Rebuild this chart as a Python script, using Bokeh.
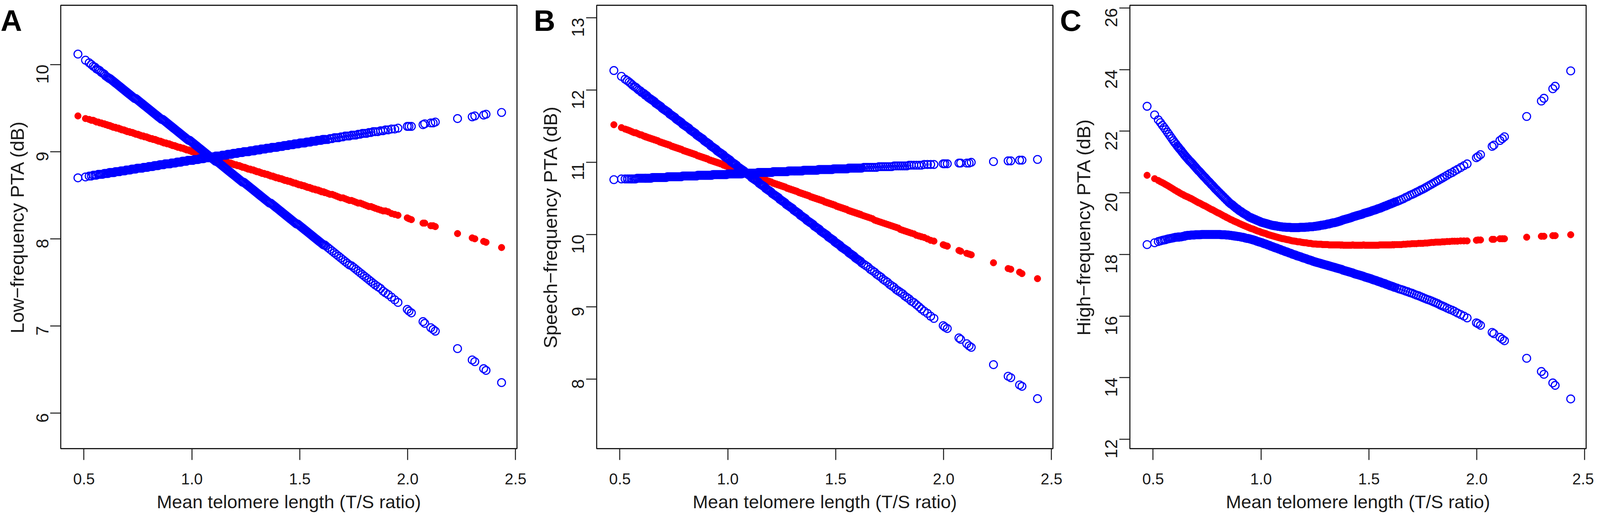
import math
from bokeh.plotting import figure
from bokeh.models import (Range1d, FixedTicker, PrintfTickFormatter, Label, ColumnDataSource, GridBox, Column)
from bokeh.embed import file_html
from bokeh.resources import INLINE

# ---------------- data ----------------
TS_RATIO = [
    0.472, 0.507, 0.524, 0.534, 0.543, 0.551, 0.558, 0.566, 0.573, 0.580, 0.587, 0.594, 0.600, 0.606, 0.612, 0.617,
    0.620, 0.625, 0.630, 0.635, 0.640, 0.645, 0.650, 0.655, 0.660, 0.665,
    0.670, 0.675, 0.680, 0.685, 0.690, 0.695, 0.700, 0.705, 0.710, 0.715,
    0.720, 0.725, 0.730, 0.735, 0.740, 0.745, 0.750, 0.755, 0.760, 0.765,
    0.770, 0.775, 0.780, 0.785, 0.790, 0.795, 0.800, 0.805, 0.810, 0.815,
    0.820, 0.825, 0.830, 0.835, 0.840, 0.845, 0.850, 0.855, 0.860, 0.865,
    0.870, 0.875, 0.880, 0.885, 0.890, 0.895, 0.900, 0.905, 0.910, 0.915,
    0.920, 0.925, 0.930, 0.935, 0.940, 0.945, 0.950, 0.955, 0.960, 0.965,
    0.970, 0.975, 0.980, 0.985, 0.990, 0.995, 1.000, 1.005, 1.010, 1.015,
    1.020, 1.025, 1.030, 1.035, 1.040, 1.045, 1.050, 1.055, 1.060, 1.065,
    1.070, 1.075, 1.080, 1.085, 1.090, 1.095, 1.100, 1.105, 1.110, 1.115,
    1.120, 1.125, 1.130, 1.135, 1.140, 1.145, 1.150, 1.155, 1.160, 1.165,
    1.170, 1.175, 1.180, 1.185, 1.190, 1.195, 1.200, 1.205, 1.210, 1.215,
    1.220, 1.225, 1.230, 1.235, 1.240, 1.245, 1.250, 1.255, 1.260, 1.265,
    1.270, 1.275, 1.280, 1.285, 1.290, 1.295, 1.300, 1.305, 1.310, 1.315,
    1.320, 1.325, 1.330, 1.335, 1.340, 1.345, 1.350, 1.355, 1.360, 1.365,
    1.370, 1.375, 1.380, 1.385, 1.390, 1.395, 1.400, 1.405, 1.410, 1.415,
    1.420, 1.425, 1.430, 1.435, 1.440, 1.445, 1.450, 1.455, 1.460, 1.465,
    1.470, 1.475, 1.480, 1.485, 1.490, 1.495, 1.500, 1.505, 1.510, 1.515,
    1.520, 1.525, 1.530, 1.535, 1.540, 1.545, 1.550, 1.555, 1.560, 1.565,
    1.570, 1.575, 1.580, 1.585, 1.590, 1.595, 1.600, 1.605, 1.610, 1.615,
    1.620,
    1.630, 1.640, 1.650, 1.660, 1.670, 1.680, 1.690, 1.700, 1.710, 1.720, 1.730, 1.740,
    1.750, 1.760, 1.770, 1.780, 1.790, 1.800, 1.810, 1.820, 1.830, 1.840, 1.850,
    1.862, 1.874, 1.886, 1.897, 1.910, 1.925, 1.940, 1.955, 1.998, 2.006, 2.017,
    2.071, 2.079, 2.107, 2.118, 2.128, 2.231, 2.299, 2.311, 2.352, 2.363, 2.435,
]

# Panel A: low-frequency PTA
LOW_FIT = [
    9.41, 9.38, 9.37, 9.36, 9.36, 9.35, 9.34, 9.34, 9.33, 9.33, 9.32, 9.32, 9.31, 9.31, 9.30, 9.30,
    9.30, 9.29, 9.29, 9.28, 9.28, 9.28, 9.27, 9.27, 9.27, 9.26,
    9.26, 9.25, 9.25, 9.25, 9.24, 9.24, 9.23, 9.23, 9.23, 9.22,
    9.22, 9.22, 9.21, 9.21, 9.20, 9.20, 9.20, 9.19, 9.19, 9.18,
    9.18, 9.18, 9.17, 9.17, 9.17, 9.16, 9.16, 9.15, 9.15, 9.15,
    9.14, 9.14, 9.14, 9.13, 9.13, 9.12, 9.12, 9.12, 9.11, 9.11,
    9.10, 9.10, 9.10, 9.09, 9.09, 9.09, 9.08, 9.08, 9.07, 9.07,
    9.07, 9.06, 9.06, 9.05, 9.05, 9.05, 9.04, 9.04, 9.04, 9.03,
    9.03, 9.02, 9.02, 9.02, 9.01, 9.01, 9.00, 9.00, 9.00, 8.99,
    8.99, 8.99, 8.98, 8.98, 8.97, 8.97, 8.97, 8.96, 8.96, 8.95,
    8.95, 8.95, 8.94, 8.94, 8.94, 8.93, 8.93, 8.92, 8.92, 8.92,
    8.91, 8.91, 8.90, 8.90, 8.90, 8.89, 8.89, 8.89, 8.88, 8.88,
    8.87, 8.87, 8.87, 8.86, 8.86, 8.85, 8.85, 8.85, 8.84, 8.84,
    8.84, 8.83, 8.83, 8.82, 8.82, 8.82, 8.81, 8.81, 8.80, 8.80,
    8.80, 8.79, 8.79, 8.79, 8.78, 8.78, 8.77, 8.77, 8.77, 8.76,
    8.76, 8.75, 8.75, 8.75, 8.74, 8.74, 8.74, 8.73, 8.73, 8.72,
    8.72, 8.72, 8.71, 8.71, 8.70, 8.70, 8.70, 8.69, 8.69, 8.69,
    8.68, 8.68, 8.67, 8.67, 8.67, 8.66, 8.66, 8.66, 8.65, 8.65,
    8.64, 8.64, 8.64, 8.63, 8.63, 8.62, 8.62, 8.62, 8.61, 8.61,
    8.61, 8.60, 8.60, 8.59, 8.59, 8.59, 8.58, 8.58, 8.57, 8.57,
    8.57, 8.56, 8.56, 8.56, 8.55, 8.55, 8.54, 8.54, 8.54, 8.53,
    8.53,
    8.52, 8.51, 8.51, 8.50, 8.49, 8.48, 8.47, 8.47, 8.46, 8.45, 8.44, 8.44,
    8.43, 8.42, 8.41, 8.41, 8.40, 8.39, 8.38, 8.37, 8.37, 8.36, 8.35,
    8.34, 8.33, 8.32, 8.32, 8.31, 8.29, 8.28, 8.27, 8.24, 8.23, 8.22,
    8.18, 8.18, 8.15, 8.15, 8.14, 8.06, 8.01, 8.00, 7.97, 7.96, 7.90,
]
LOW_CI_1 = [
    10.12, 10.05, 10.02, 10.00, 9.98, 9.97, 9.95, 9.94, 9.93, 9.91, 9.90, 9.89, 9.87, 9.86, 9.85, 9.84,
    9.84, 9.83, 9.82, 9.81, 9.80, 9.79, 9.78, 9.77, 9.76, 9.75,
    9.74, 9.73, 9.72, 9.71, 9.70, 9.69, 9.68, 9.67, 9.66, 9.65,
    9.64, 9.63, 9.62, 9.61, 9.61, 9.60, 9.59, 9.58, 9.57, 9.56,
    9.55, 9.54, 9.53, 9.52, 9.51, 9.50, 9.49, 9.48, 9.47, 9.46,
    9.45, 9.44, 9.43, 9.42, 9.41, 9.40, 9.39, 9.38, 9.37, 9.37,
    9.36, 9.35, 9.34, 9.33, 9.32, 9.31, 9.30, 9.29, 9.28, 9.27,
    9.26, 9.25, 9.24, 9.23, 9.22, 9.21, 9.20, 9.19, 9.18, 9.17,
    9.16, 9.15, 9.14, 9.13, 9.13, 9.12, 9.11, 9.10, 9.09, 9.08,
    9.07, 9.06, 9.05, 9.04, 9.03, 9.02, 9.01, 9.00, 8.99, 8.98,
    8.97, 8.96, 8.95, 8.94, 8.93, 8.92, 8.91, 8.90, 8.89, 8.89,
    8.88, 8.87, 8.86, 8.85, 8.84, 8.83, 8.82, 8.81, 8.80, 8.79,
    8.78, 8.77, 8.76, 8.75, 8.74, 8.73, 8.72, 8.71, 8.70, 8.69,
    8.68, 8.67, 8.66, 8.65, 8.65, 8.64, 8.63, 8.62, 8.61, 8.60,
    8.59, 8.58, 8.57, 8.56, 8.55, 8.54, 8.53, 8.52, 8.51, 8.50,
    8.49, 8.48, 8.47, 8.46, 8.45, 8.44, 8.43, 8.42, 8.41, 8.41,
    8.40, 8.39, 8.38, 8.37, 8.36, 8.35, 8.34, 8.33, 8.32, 8.31,
    8.30, 8.29, 8.28, 8.27, 8.26, 8.25, 8.24, 8.23, 8.22, 8.21,
    8.20, 8.19, 8.18, 8.17, 8.17, 8.16, 8.15, 8.14, 8.13, 8.12,
    8.11, 8.10, 8.09, 8.08, 8.07, 8.06, 8.05, 8.04, 8.03, 8.02,
    8.01, 8.00, 7.99, 7.98, 7.97, 7.96, 7.95, 7.94, 7.93, 7.93,
    7.92,
    7.90, 7.88, 7.86, 7.84, 7.82, 7.80, 7.78, 7.76, 7.74, 7.72, 7.70, 7.69,
    7.67, 7.65, 7.63, 7.61, 7.59, 7.57, 7.55, 7.53, 7.51, 7.49, 7.47,
    7.45, 7.43, 7.40, 7.38, 7.36, 7.33, 7.30, 7.27, 7.19, 7.17, 7.15,
    7.05, 7.03, 6.98, 6.96, 6.94, 6.74, 6.61, 6.59, 6.51, 6.49, 6.35,
]
LOW_CI_2 = [
    8.70, 8.71, 8.72, 8.72, 8.73, 8.73, 8.73, 8.74, 8.74, 8.74, 8.74, 8.75, 8.75, 8.75, 8.75, 8.76,
    8.76, 8.76, 8.76, 8.76, 8.76, 8.77, 8.77, 8.77, 8.77, 8.77,
    8.78, 8.78, 8.78, 8.78, 8.78, 8.79, 8.79, 8.79, 8.79, 8.79,
    8.80, 8.80, 8.80, 8.80, 8.80, 8.81, 8.81, 8.81, 8.81, 8.81,
    8.81, 8.82, 8.82, 8.82, 8.82, 8.82, 8.83, 8.83, 8.83, 8.83,
    8.83, 8.84, 8.84, 8.84, 8.84, 8.84, 8.85, 8.85, 8.85, 8.85,
    8.85, 8.86, 8.86, 8.86, 8.86, 8.86, 8.86, 8.87, 8.87, 8.87,
    8.87, 8.87, 8.88, 8.88, 8.88, 8.88, 8.88, 8.89, 8.89, 8.89,
    8.89, 8.89, 8.90, 8.90, 8.90, 8.90, 8.90, 8.90, 8.91, 8.91,
    8.91, 8.91, 8.91, 8.92, 8.92, 8.92, 8.92, 8.92, 8.93, 8.93,
    8.93, 8.93, 8.93, 8.94, 8.94, 8.94, 8.94, 8.94, 8.95, 8.95,
    8.95, 8.95, 8.95, 8.95, 8.96, 8.96, 8.96, 8.96, 8.96, 8.97,
    8.97, 8.97, 8.97, 8.97, 8.98, 8.98, 8.98, 8.98, 8.98, 8.99,
    8.99, 8.99, 8.99, 8.99, 9.00, 9.00, 9.00, 9.00, 9.00, 9.00,
    9.01, 9.01, 9.01, 9.01, 9.01, 9.02, 9.02, 9.02, 9.02, 9.02,
    9.03, 9.03, 9.03, 9.03, 9.03, 9.04, 9.04, 9.04, 9.04, 9.04,
    9.05, 9.05, 9.05, 9.05, 9.05, 9.05, 9.06, 9.06, 9.06, 9.06,
    9.06, 9.07, 9.07, 9.07, 9.07, 9.07, 9.08, 9.08, 9.08, 9.08,
    9.08, 9.09, 9.09, 9.09, 9.09, 9.09, 9.10, 9.10, 9.10, 9.10,
    9.10, 9.10, 9.11, 9.11, 9.11, 9.11, 9.11, 9.12, 9.12, 9.12,
    9.12, 9.12, 9.13, 9.13, 9.13, 9.13, 9.13, 9.14, 9.14, 9.14,
    9.14,
    9.14, 9.15, 9.15, 9.16, 9.16, 9.16, 9.17, 9.17, 9.18, 9.18, 9.18, 9.19,
    9.19, 9.19, 9.20, 9.20, 9.21, 9.21, 9.21, 9.22, 9.22, 9.23, 9.23,
    9.23, 9.24, 9.24, 9.25, 9.25, 9.26, 9.26, 9.27, 9.29, 9.29, 9.29,
    9.31, 9.32, 9.33, 9.33, 9.34, 9.38, 9.40, 9.41, 9.42, 9.43, 9.45,
]

# Panel B: speech-frequency PTA
SPEECH_FIT = [
    11.52, 11.48, 11.46, 11.45, 11.44, 11.43, 11.42, 11.41, 11.41, 11.40, 11.39, 11.38, 11.38, 11.37, 11.36, 11.36,
    11.35, 11.35, 11.34, 11.34, 11.33, 11.33, 11.32, 11.32, 11.31, 11.31,
    11.30, 11.30, 11.29, 11.28, 11.28, 11.27, 11.27, 11.26, 11.26, 11.25,
    11.25, 11.24, 11.24, 11.23, 11.22, 11.22, 11.21, 11.21, 11.20, 11.20,
    11.19, 11.19, 11.18, 11.18, 11.17, 11.16, 11.16, 11.15, 11.15, 11.14,
    11.14, 11.13, 11.13, 11.12, 11.12, 11.11, 11.11, 11.10, 11.09, 11.09,
    11.08, 11.08, 11.07, 11.07, 11.06, 11.06, 11.05, 11.05, 11.04, 11.03,
    11.03, 11.02, 11.02, 11.01, 11.01, 11.00, 11.00, 10.99, 10.99, 10.98,
    10.98, 10.97, 10.96, 10.96, 10.95, 10.95, 10.94, 10.94, 10.93, 10.93,
    10.92, 10.92, 10.91, 10.90, 10.90, 10.89, 10.89, 10.88, 10.88, 10.87,
    10.87, 10.86, 10.86, 10.85, 10.84, 10.84, 10.83, 10.83, 10.82, 10.82,
    10.81, 10.81, 10.80, 10.80, 10.79, 10.79, 10.78, 10.77, 10.77, 10.76,
    10.76, 10.75, 10.75, 10.74, 10.74, 10.73, 10.73, 10.72, 10.71, 10.71,
    10.70, 10.70, 10.69, 10.69, 10.68, 10.68, 10.67, 10.67, 10.66, 10.66,
    10.65, 10.64, 10.64, 10.63, 10.63, 10.62, 10.62, 10.61, 10.61, 10.60,
    10.60, 10.59, 10.58, 10.58, 10.57, 10.57, 10.56, 10.56, 10.55, 10.55,
    10.54, 10.54, 10.53, 10.52, 10.52, 10.51, 10.51, 10.50, 10.50, 10.49,
    10.49, 10.48, 10.48, 10.47, 10.47, 10.46, 10.45, 10.45, 10.44, 10.44,
    10.43, 10.43, 10.42, 10.42, 10.41, 10.41, 10.40, 10.39, 10.39, 10.38,
    10.38, 10.37, 10.37, 10.36, 10.36, 10.35, 10.35, 10.34, 10.33, 10.33,
    10.32, 10.32, 10.31, 10.31, 10.30, 10.30, 10.29, 10.29, 10.28, 10.28,
    10.27,
    10.26, 10.25, 10.24, 10.23, 10.22, 10.20, 10.19, 10.18, 10.17, 10.16, 10.15, 10.14,
    10.13, 10.12, 10.11, 10.10, 10.09, 10.07, 10.06, 10.05, 10.04, 10.03, 10.02,
    10.01, 9.99, 9.98, 9.97, 9.96, 9.94, 9.92, 9.91, 9.86, 9.85, 9.84,
    9.78, 9.77, 9.74, 9.73, 9.72, 9.61, 9.53, 9.52, 9.48, 9.46, 9.39,
]
SPEECH_CI_1 = [
    12.27, 12.19, 12.15, 12.13, 12.11, 12.09, 12.07, 12.05, 12.04, 12.02, 12.00, 11.99, 11.97, 11.96, 11.95, 11.93,
    11.93, 11.92, 11.90, 11.89, 11.88, 11.87, 11.86, 11.85, 11.84, 11.82,
    11.81, 11.80, 11.79, 11.78, 11.77, 11.75, 11.74, 11.73, 11.72, 11.71,
    11.70, 11.69, 11.67, 11.66, 11.65, 11.64, 11.63, 11.62, 11.60, 11.59,
    11.58, 11.57, 11.56, 11.55, 11.53, 11.52, 11.51, 11.50, 11.49, 11.48,
    11.47, 11.45, 11.44, 11.43, 11.42, 11.41, 11.40, 11.38, 11.37, 11.36,
    11.35, 11.34, 11.33, 11.32, 11.30, 11.29, 11.28, 11.27, 11.26, 11.25,
    11.23, 11.22, 11.21, 11.20, 11.19, 11.18, 11.16, 11.15, 11.14, 11.13,
    11.12, 11.11, 11.10, 11.08, 11.07, 11.06, 11.05, 11.04, 11.03, 11.01,
    11.00, 10.99, 10.98, 10.97, 10.96, 10.94, 10.93, 10.92, 10.91, 10.90,
    10.89, 10.88, 10.86, 10.85, 10.84, 10.83, 10.82, 10.81, 10.79, 10.78,
    10.77, 10.76, 10.75, 10.74, 10.73, 10.71, 10.70, 10.69, 10.68, 10.67,
    10.66, 10.64, 10.63, 10.62, 10.61, 10.60, 10.59, 10.57, 10.56, 10.55,
    10.54, 10.53, 10.52, 10.51, 10.49, 10.48, 10.47, 10.46, 10.45, 10.44,
    10.42, 10.41, 10.40, 10.39, 10.38, 10.37, 10.36, 10.34, 10.33, 10.32,
    10.31, 10.30, 10.29, 10.27, 10.26, 10.25, 10.24, 10.23, 10.22, 10.20,
    10.19, 10.18, 10.17, 10.16, 10.15, 10.14, 10.12, 10.11, 10.10, 10.09,
    10.08, 10.07, 10.05, 10.04, 10.03, 10.02, 10.01, 10.00, 9.99, 9.97,
    9.96, 9.95, 9.94, 9.93, 9.92, 9.90, 9.89, 9.88, 9.87, 9.86,
    9.85, 9.83, 9.82, 9.81, 9.80, 9.79, 9.78, 9.77, 9.75, 9.74,
    9.73, 9.72, 9.71, 9.70, 9.68, 9.67, 9.66, 9.65, 9.64, 9.63,
    9.61,
    9.59, 9.57, 9.55, 9.52, 9.50, 9.48, 9.45, 9.43, 9.41, 9.38, 9.36, 9.34,
    9.31, 9.29, 9.27, 9.24, 9.22, 9.20, 9.18, 9.15, 9.13, 9.11, 9.08,
    9.06, 9.03, 9.00, 8.97, 8.94, 8.91, 8.87, 8.84, 8.74, 8.72, 8.70,
    8.57, 8.55, 8.49, 8.46, 8.44, 8.20, 8.04, 8.02, 7.92, 7.90, 7.73,
]
SPEECH_CI_2 = [
    10.76, 10.77, 10.77, 10.77, 10.77, 10.77, 10.77, 10.77, 10.77, 10.78, 10.78, 10.78, 10.78, 10.78, 10.78, 10.78,
    10.78, 10.78, 10.78, 10.78, 10.78, 10.78, 10.79, 10.79, 10.79, 10.79,
    10.79, 10.79, 10.79, 10.79, 10.79, 10.79, 10.79, 10.79, 10.79, 10.79,
    10.80, 10.80, 10.80, 10.80, 10.80, 10.80, 10.80, 10.80, 10.80, 10.80,
    10.80, 10.80, 10.80, 10.80, 10.81, 10.81, 10.81, 10.81, 10.81, 10.81,
    10.81, 10.81, 10.81, 10.81, 10.81, 10.81, 10.81, 10.81, 10.82, 10.82,
    10.82, 10.82, 10.82, 10.82, 10.82, 10.82, 10.82, 10.82, 10.82, 10.82,
    10.82, 10.82, 10.83, 10.83, 10.83, 10.83, 10.83, 10.83, 10.83, 10.83,
    10.83, 10.83, 10.83, 10.83, 10.83, 10.83, 10.84, 10.84, 10.84, 10.84,
    10.84, 10.84, 10.84, 10.84, 10.84, 10.84, 10.84, 10.84, 10.84, 10.84,
    10.85, 10.85, 10.85, 10.85, 10.85, 10.85, 10.85, 10.85, 10.85, 10.85,
    10.85, 10.85, 10.85, 10.85, 10.86, 10.86, 10.86, 10.86, 10.86, 10.86,
    10.86, 10.86, 10.86, 10.86, 10.86, 10.86, 10.86, 10.86, 10.87, 10.87,
    10.87, 10.87, 10.87, 10.87, 10.87, 10.87, 10.87, 10.87, 10.87, 10.87,
    10.87, 10.87, 10.88, 10.88, 10.88, 10.88, 10.88, 10.88, 10.88, 10.88,
    10.88, 10.88, 10.88, 10.88, 10.88, 10.88, 10.89, 10.89, 10.89, 10.89,
    10.89, 10.89, 10.89, 10.89, 10.89, 10.89, 10.89, 10.89, 10.89, 10.89,
    10.90, 10.90, 10.90, 10.90, 10.90, 10.90, 10.90, 10.90, 10.90, 10.90,
    10.90, 10.90, 10.90, 10.90, 10.91, 10.91, 10.91, 10.91, 10.91, 10.91,
    10.91, 10.91, 10.91, 10.91, 10.91, 10.91, 10.91, 10.91, 10.92, 10.92,
    10.92, 10.92, 10.92, 10.92, 10.92, 10.92, 10.92, 10.92, 10.92, 10.92,
    10.92,
    10.93, 10.93, 10.93, 10.93, 10.93, 10.93, 10.93, 10.94, 10.94, 10.94, 10.94, 10.94,
    10.94, 10.94, 10.95, 10.95, 10.95, 10.95, 10.95, 10.95, 10.95, 10.96, 10.96,
    10.96, 10.96, 10.96, 10.96, 10.97, 10.97, 10.97, 10.97, 10.98, 10.98, 10.98,
    10.99, 10.99, 10.99, 10.99, 11.00, 11.01, 11.02, 11.02, 11.03, 11.03, 11.04,
]

# Panel C: high-frequency PTA
HIGH_FIT = [
    20.57, 20.46, 20.40, 20.36, 20.33, 20.30, 20.27, 20.24, 20.21, 20.18, 20.15, 20.12, 20.09, 20.07, 20.04, 20.03,
    20.01, 19.99, 19.97, 19.95, 19.94, 19.91,
    19.90, 19.88, 19.87, 19.85, 19.83, 19.82, 19.80, 19.78, 19.76, 19.74,
    19.72, 19.70, 19.68, 19.67, 19.65, 19.63, 19.61, 19.59, 19.58, 19.56,
    19.54, 19.52, 19.50, 19.48, 19.46, 19.45, 19.43, 19.41, 19.39, 19.37,
    19.35, 19.34, 19.32, 19.30, 19.28, 19.26, 19.24, 19.23, 19.20, 19.19,
    19.17, 19.15, 19.13, 19.12, 19.10, 19.08, 19.07, 19.05, 19.04, 19.02,
    19.00, 18.99, 18.97, 18.96, 18.94, 18.93, 18.91, 18.90, 18.88, 18.87,
    18.85, 18.84, 18.83, 18.82, 18.80, 18.79, 18.77, 18.76, 18.75, 18.74,
    18.72, 18.71, 18.70, 18.69, 18.68, 18.67, 18.65, 18.64, 18.63, 18.62,
    18.61, 18.60, 18.59, 18.58, 18.57, 18.56, 18.55, 18.54, 18.53, 18.52,
    18.51, 18.51, 18.50, 18.49, 18.48, 18.48, 18.47, 18.46, 18.45, 18.44,
    18.44, 18.43, 18.43, 18.42, 18.41, 18.41, 18.41, 18.40, 18.39, 18.39,
    18.38, 18.38, 18.38, 18.37, 18.36, 18.36, 18.36, 18.35, 18.34, 18.34,
    18.34, 18.34, 18.33, 18.33, 18.33, 18.33, 18.33, 18.32, 18.32, 18.32,
    18.32, 18.32, 18.32, 18.31, 18.31, 18.31, 18.31, 18.31, 18.31, 18.31,
    18.31, 18.31, 18.31, 18.31, 18.30, 18.31, 18.30, 18.30, 18.30, 18.30,
    18.30, 18.30, 18.30, 18.30, 18.30, 18.31, 18.30, 18.30, 18.30, 18.30,
    18.30, 18.30, 18.30, 18.30, 18.30, 18.31, 18.30, 18.30, 18.30, 18.30,
    18.30, 18.30, 18.30, 18.30, 18.30, 18.30, 18.30, 18.30, 18.30, 18.30,
    18.31, 18.31, 18.31, 18.31, 18.31, 18.31, 18.31, 18.31, 18.31, 18.31,
    18.31, 18.31, 18.32, 18.31, 18.32,
    18.32, 18.32, 18.32, 18.33, 18.33, 18.34, 18.34, 18.35, 18.35, 18.35, 18.36, 18.36,
    18.36, 18.37, 18.37, 18.38, 18.39, 18.39, 18.40, 18.40, 18.40, 18.41, 18.41,
    18.42, 18.42, 18.43, 18.43, 18.43, 18.44, 18.44, 18.44, 18.46, 18.47, 18.47,
    18.49, 18.49, 18.51, 18.51, 18.51, 18.56, 18.59, 18.59, 18.61, 18.61, 18.64,
]
HIGH_CI_1 = [
    22.81, 22.53, 22.37, 22.28, 22.19, 22.12, 22.05, 21.97, 21.90, 21.83, 21.76, 21.69, 21.63, 21.58, 21.52, 21.48,
    21.45, 21.41, 21.37, 21.32, 21.28, 21.23,
    21.19, 21.15, 21.11, 21.07, 21.03, 21.00, 20.96, 20.92, 20.88, 20.84,
    20.80, 20.76, 20.72, 20.69, 20.65, 20.61, 20.57, 20.53, 20.50, 20.46,
    20.42, 20.38, 20.35, 20.31, 20.27, 20.24, 20.20, 20.16, 20.12, 20.09,
    20.05, 20.02, 19.98, 19.95, 19.91, 19.88, 19.84, 19.81, 19.77, 19.74,
    19.70, 19.67, 19.64, 19.62, 19.59, 19.56, 19.53, 19.50, 19.48, 19.45,
    19.42, 19.40, 19.38, 19.35, 19.33, 19.31, 19.29, 19.27, 19.24, 19.22,
    19.20, 19.19, 19.17, 19.16, 19.14, 19.13, 19.11, 19.10, 19.08, 19.07,
    19.05, 19.04, 19.03, 19.02, 19.01, 19.00, 18.99, 18.98, 18.97, 18.96,
    18.95, 18.94, 18.94, 18.93, 18.93, 18.92, 18.91, 18.91, 18.90, 18.90,
    18.89, 18.89, 18.89, 18.88, 18.88, 18.88, 18.88, 18.88, 18.87, 18.87,
    18.87, 18.87, 18.87, 18.87, 18.87, 18.87, 18.88, 18.88, 18.88, 18.88,
    18.88, 18.88, 18.89, 18.89, 18.89, 18.90, 18.90, 18.90, 18.90, 18.91,
    18.91, 18.92, 18.92, 18.93, 18.93, 18.94, 18.95, 18.95, 18.96, 18.96,
    18.97, 18.98, 18.99, 18.99, 19.00, 19.01, 19.02, 19.03, 19.03, 19.04,
    19.05, 19.06, 19.07, 19.08, 19.09, 19.11, 19.12, 19.13, 19.14, 19.15,
    19.16, 19.17, 19.18, 19.19, 19.20, 19.22, 19.23, 19.24, 19.25, 19.26,
    19.27, 19.28, 19.29, 19.30, 19.31, 19.33, 19.34, 19.35, 19.36, 19.37,
    19.38, 19.39, 19.40, 19.42, 19.43, 19.44, 19.45, 19.46, 19.48, 19.49,
    19.50, 19.51, 19.53, 19.54, 19.56, 19.57, 19.58, 19.60, 19.61, 19.63,
    19.64, 19.65, 19.67, 19.68, 19.70,
    19.72, 19.75, 19.78, 19.81, 19.85, 19.88, 19.92, 19.95, 19.98, 20.02, 20.05, 20.09,
    20.12, 20.16, 20.20, 20.24, 20.28, 20.32, 20.36, 20.40, 20.44, 20.48, 20.52,
    20.57, 20.62, 20.66, 20.71, 20.76, 20.82, 20.88, 20.94, 21.14, 21.18, 21.24,
    21.51, 21.55, 21.70, 21.76, 21.82, 22.48, 22.98, 23.07, 23.38, 23.46, 23.96,
]
HIGH_CI_2 = [
    18.32, 18.38, 18.42, 18.44, 18.46, 18.47, 18.48, 18.50, 18.51, 18.52, 18.53, 18.54, 18.55, 18.56, 18.56, 18.57,
    18.56, 18.57, 18.57, 18.58, 18.59, 18.59,
    18.61, 18.61, 18.62, 18.62, 18.62, 18.63, 18.63, 18.63, 18.63, 18.64,
    18.64, 18.64, 18.64, 18.64, 18.64, 18.65, 18.65, 18.65, 18.65, 18.65,
    18.65, 18.65, 18.65, 18.65, 18.65, 18.65, 18.65, 18.65, 18.65, 18.65,
    18.65, 18.65, 18.65, 18.64, 18.64, 18.64, 18.64, 18.64, 18.63, 18.63,
    18.63, 18.62, 18.62, 18.61, 18.61, 18.60, 18.60, 18.59, 18.59, 18.58,
    18.58, 18.57, 18.56, 18.56, 18.55, 18.54, 18.53, 18.52, 18.52, 18.51,
    18.50, 18.49, 18.48, 18.47, 18.46, 18.45, 18.43, 18.42, 18.41, 18.40,
    18.39, 18.38, 18.36, 18.35, 18.34, 18.33, 18.31, 18.30, 18.29, 18.27,
    18.26, 18.25, 18.23, 18.22, 18.21, 18.20, 18.18, 18.17, 18.16, 18.14,
    18.13, 18.12, 18.10, 18.09, 18.08, 18.07, 18.05, 18.04, 18.03, 18.01,
    18.00, 17.99, 17.98, 17.96, 17.95, 17.94, 17.93, 17.92, 17.90, 17.89,
    17.88, 17.87, 17.86, 17.84, 17.83, 17.82, 17.81, 17.80, 17.78, 17.77,
    17.76, 17.75, 17.74, 17.73, 17.72, 17.71, 17.70, 17.69, 17.68, 17.67,
    17.66, 17.65, 17.64, 17.63, 17.62, 17.61, 17.60, 17.59, 17.58, 17.57,
    17.56, 17.55, 17.54, 17.53, 17.52, 17.51, 17.49, 17.48, 17.47, 17.46,
    17.45, 17.44, 17.43, 17.42, 17.41, 17.40, 17.38, 17.37, 17.36, 17.35,
    17.34, 17.33, 17.32, 17.31, 17.30, 17.29, 17.27, 17.26, 17.25, 17.24,
    17.23, 17.22, 17.21, 17.19, 17.18, 17.17, 17.16, 17.15, 17.13, 17.12,
    17.11, 17.10, 17.08, 17.07, 17.06, 17.05, 17.03, 17.02, 17.01, 16.99,
    16.98, 16.97, 16.96, 16.94, 16.93,
    16.91, 16.88, 16.86, 16.84, 16.81, 16.79, 16.76, 16.74, 16.71, 16.68, 16.66, 16.63,
    16.60, 16.57, 16.54, 16.52, 16.49, 16.46, 16.43, 16.40, 16.36, 16.33, 16.30,
    16.26, 16.22, 16.19, 16.15, 16.10, 16.05, 16.00, 15.94, 15.78, 15.75, 15.70,
    15.47, 15.43, 15.31, 15.25, 15.20, 14.63, 14.20, 14.11, 13.83, 13.75, 13.31,
]

X_TICKS = [0.5, 1.0, 1.5, 2.0, 2.5]
LOW_TICKS = [6, 7, 8, 9, 10]
SPEECH_TICKS = [8, 9, 10, 11, 12, 13]
HIGH_TICKS = [12, 14, 16, 18, 20, 22, 24, 26]
X_LABEL = "Mean telomere length (T/S ratio)"
PANEL_LETTERS = ["A", "B", "C"]

for name, arr in [("LOW_FIT", LOW_FIT), ("LOW_CI_1", LOW_CI_1), ("LOW_CI_2", LOW_CI_2),
                  ("SPEECH_FIT", SPEECH_FIT), ("SPEECH_CI_1", SPEECH_CI_1), ("SPEECH_CI_2", SPEECH_CI_2),
                  ("HIGH_FIT", HIGH_FIT), ("HIGH_CI_1", HIGH_CI_1), ("HIGH_CI_2", HIGH_CI_2)]:
    assert len(arr) == len(TS_RATIO), (name, len(arr), len(TS_RATIO))

# ---------------- styling / layout ----------------
RED = "#FF0000"
BLUE = "#0000FF"
INK = "#1a1a1a"
FONT = "Liberation Sans"
TOP, FRAME_H, BOTTOM = 13, 1135, 176
TOTAL_H = TOP + FRAME_H + BOTTOM
FRAME_W = 1168


def make_panel(ylabel, fit, ci1, ci2, yrange, yticks, left, right, tick_standoff, title_standoff):
    p = figure(frame_width=FRAME_W, frame_height=FRAME_H,
               x_range=Range1d(0.3923, 2.5065), y_range=Range1d(*yrange),
               output_backend="svg", toolbar_location=None,
               min_border_left=left, min_border_right=right,
               min_border_top=TOP, min_border_bottom=BOTTOM)
    p.background_fill_color = "white"
    p.border_fill_color = "white"
    p.outline_line_color = INK
    p.outline_line_width = 2.8
    p.xgrid.visible = False
    p.ygrid.visible = False

    src = ColumnDataSource(dict(x=TS_RATIO, fit=fit, ci1=ci1, ci2=ci2))
    p.scatter("x", "fit", source=src, size=17, fill_color=RED, line_color=RED, line_width=1)
    p.scatter("x", "ci1", source=src, size=20, fill_color=None, line_color=BLUE, line_width=2.9)
    p.scatter("x", "ci2", source=src, size=20, fill_color=None, line_color=BLUE, line_width=2.9)

    xa = p.xaxis[0]
    xa.ticker = FixedTicker(ticks=X_TICKS)
    xa.formatter = PrintfTickFormatter(format="%.1f")
    xa.axis_label = X_LABEL
    xa.axis_label_text_font = FONT
    xa.axis_label_text_font_size = "47px"
    xa.axis_label_text_font_style = "normal"
    xa.axis_label_text_color = INK
    xa.axis_label_standoff = 15
    xa.major_label_text_font = FONT
    xa.major_label_text_font_size = "40px"
    xa.major_label_text_color = INK
    xa.major_label_standoff = 34
    xa.major_tick_out = 29

    ya = p.yaxis[0]
    ya.ticker = FixedTicker(ticks=yticks)
    ya.axis_label = ylabel
    ya.axis_label_text_font = FONT
    ya.axis_label_text_font_size = "49px"
    ya.axis_label_text_font_style = "normal"
    ya.axis_label_text_color = INK
    ya.axis_label_standoff = title_standoff
    ya.major_label_text_font = FONT
    ya.major_label_text_font_size = "44px"
    ya.major_label_text_color = INK
    ya.major_label_orientation = math.pi / 2
    ya.major_label_standoff = tick_standoff
    ya.major_tick_out = 27

    for ax in (xa, ya):
        ax.axis_line_color = None
        ax.major_tick_in = 0
        ax.major_tick_line_width = 2.5
        ax.major_tick_line_color = INK
        ax.minor_tick_line_color = None
    return p


pA = make_panel("Low\u2212frequency PTA (dB)", LOW_FIT, LOW_CI_1, LOW_CI_2,
                (5.592, 10.68), LOW_TICKS, 155, 37, 20, 4)
pB = make_panel("Speech\u2212frequency PTA (dB)", SPEECH_FIT, SPEECH_CI_1, SPEECH_CI_2,
                (7.038, 13.173), SPEECH_TICKS, 167, 30, 21, 10)
pC = make_panel("High\u2212frequency PTA (dB)", HIGH_FIT, HIGH_CI_1, HIGH_CI_2,
                (11.696, 26.089), HIGH_TICKS, 167, 20, 21, 10)

TOTAL_W = (155 + FRAME_W + 37) + (167 + FRAME_W + 30) + (167 + FRAME_W + 20)

# transparent overlay carrying the panel letters; wrapped in a Column so that
# its frame is not aligned with the panel frames (its frame spans the whole area)
ov = figure(frame_width=TOTAL_W, frame_height=TOTAL_H, x_range=Range1d(0, TOTAL_W),
            y_range=Range1d(0, TOTAL_H), output_backend="svg", toolbar_location=None,
            x_axis_location=None, y_axis_location=None, min_border=0)
ov.background_fill_color = None
ov.border_fill_color = None
ov.outline_line_color = None
ov.xgrid.visible = False
ov.ygrid.visible = False
for txt, lx in zip(PANEL_LETTERS, [1, 1366, 2713]):
    ov.add_layout(Label(x=lx, y=TOTAL_H - 52, text=txt, text_font=FONT,
                        text_font_style="bold", text_font_size="76px", text_color="black",
                        text_align="left", text_baseline="alphabetic"))

layout = GridBox(children=[(pA, 0, 0), (pB, 0, 1), (pC, 0, 2), (Column(children=[ov]), 0, 0, 1, 3)],
                 spacing=0)
open("out.html", "w").write(file_html(layout, INLINE))
